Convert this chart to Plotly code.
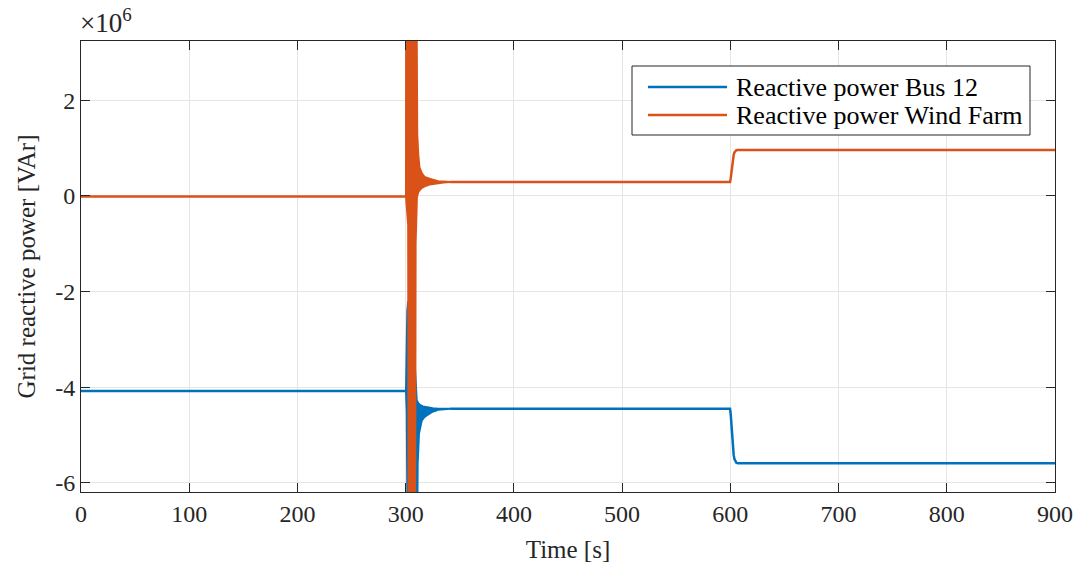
import plotly.graph_objects as go

# Reactive power at the grid connection (values in units of 1e6 VAr)
BLUE = "#0072BD"
ORANGE = "#D95319"

SERIES_NAMES = ["Reactive power Bus 12", "Reactive power Wind Farm"]

# --- settled / slow portions of each signal (gap where the oscillation band is drawn) ---
t_bus12 = [0, 300.3, None, 341, 599.7, 600.3, 601.0, 601.7, 602.4, 603.1, 603.8, 604.6, 605.6, 607.0, 900]
q_bus12 = [-4.08, -4.08, None, -4.45, -4.45, -4.55, -4.82, -5.06, -5.27, -5.42, -5.50, -5.55, -5.58, -5.59, -5.59]

t_wind = [0, 300.3, None, 341, 599.7, 600.3, 601.0, 601.7, 602.4, 603.1, 603.8, 604.6, 605.6, 607.0, 900]
q_wind = [-0.01, -0.01, None, 0.29, 0.29, 0.36, 0.52, 0.65, 0.77, 0.86, 0.91, 0.94, 0.955, 0.96, 0.96]

# --- envelope of the fast oscillation after the disturbance at t = 300 s ---
t_bus12_hi = [300.3, 300.8, 301.5, 302.3, 303.0, 306.0, 308.6, 309.3, 310.2, 311.5, 313.2, 316.0, 319.4, 325.0, 330.0, 341.0]
q_bus12_hi = [-4.08, -3.3, -2.4, -2.2, -2.3, -2.8, -3.6, -4.0, -4.27, -4.33, -4.37, -4.40, -4.42, -4.44, -4.45, -4.45]
t_bus12_lo = [300.3, 301.0, 301.8, 302.3, 310.0, 311.1, 312.3, 314.8, 317.0, 319.4, 324.1, 329.9, 341.0]
q_bus12_lo = [-4.08, -4.5, -5.5, -9.0, -9.0, -5.6, -4.97, -4.70, -4.63, -4.59, -4.52, -4.47, -4.45]

t_wind_hi = [300.3, 300.5, 309.6, 310.2, 310.7, 311.7, 312.8, 315.0, 317.4, 322.0, 326.0, 330.0, 335.0, 341.0]
q_wind_hi = [-0.01, 6.0, 6.0, 2.2, 1.28, 0.85, 0.59, 0.47, 0.40, 0.36, 0.33, 0.31, 0.30, 0.29]
t_wind_lo = [300.3, 301.2, 302.3, 302.8, 308.6, 309.2, 310.4, 311.5, 312.8, 315.0, 317.4, 322.0, 326.0, 330.0, 335.0, 341.0]
q_wind_lo = [-0.01, -0.25, -0.6, -9.0, -9.0, -1.0, -0.02, 0.07, 0.12, 0.17, 0.20, 0.24, 0.26, 0.27, 0.28, 0.29]

x_ticks = [0, 100, 200, 300, 400, 500, 600, 700, 800, 900]
y_ticks = [-6, -4, -2, 0, 2]
y_tick_text = ["-6", "-4", "-2", "0", "2"]

FONT = "Liberation Serif"
AXIS_COLOR = "#262626"
LINE_W = 2.5

W, H = 1080, 569
M_L, M_R, M_T, M_B = 81, 25, 41, 77
PLOT_W = W - M_L - M_R
PLOT_H = H - M_T - M_B


def px_x(px):
    return (px - M_L) / PLOT_W


def px_y(py):
    return (H - M_B - py) / PLOT_H


def band(t_hi, q_hi, t_lo, q_lo, color):
    return go.Scatter(
        x=list(t_hi) + list(t_lo)[::-1],
        y=list(q_hi) + list(q_lo)[::-1],
        mode="lines",
        fill="toself",
        fillcolor=color,
        line=dict(color=color, width=2),
        showlegend=False,
        hoverinfo="skip",
    )


fig = go.Figure()
fig.add_trace(go.Scatter(x=t_bus12, y=q_bus12, mode="lines", name=SERIES_NAMES[0],
                         line=dict(color=BLUE, width=LINE_W), showlegend=False))
fig.add_trace(band(t_bus12_hi, q_bus12_hi, t_bus12_lo, q_bus12_lo, BLUE))
fig.add_trace(go.Scatter(x=t_wind, y=q_wind, mode="lines", name=SERIES_NAMES[1],
                         line=dict(color=ORANGE, width=LINE_W), showlegend=False))
fig.add_trace(band(t_wind_hi, q_wind_hi, t_wind_lo, q_wind_lo, ORANGE))

axis_common = dict(
    showline=True, linecolor=AXIS_COLOR, linewidth=1, mirror="allticks",
    ticks="inside", ticklen=9, tickcolor=AXIS_COLOR, tickwidth=1,
    showgrid=True, gridcolor="#e5e5e5", gridwidth=1, zeroline=False,
    tickfont=dict(family=FONT, size=24, color=AXIS_COLOR), automargin=False,
)

fig.update_xaxes(range=[0, 900], tickvals=x_ticks,
                 title=dict(text="Time [s]", font=dict(family=FONT, size=25, color=AXIS_COLOR), standoff=14),
                 **axis_common)
fig.update_yaxes(range=[-6.19, 3.24], tickvals=y_ticks, ticktext=y_tick_text,
                 title=dict(text="Grid reactive power [VAr]", font=dict(family=FONT, size=25, color=AXIS_COLOR), standoff=12),
                 **axis_common)

# exponent label above the y axis
fig.add_annotation(text="×10<sup>6</sup>", xref="paper", yref="paper", x=0, y=1.0,
                   xanchor="left", yanchor="bottom", showarrow=False, yshift=1, xshift=-3,
                   font=dict(family=FONT, size=27, color=AXIS_COLOR))

# legend box drawn in paper coordinates
box = dict(x0=632, x1=1030, y0=66, y1=135)
fig.add_shape(type="rect", xref="paper", yref="paper",
              x0=px_x(box["x0"]), x1=px_x(box["x1"]), y0=px_y(box["y1"]), y1=px_y(box["y0"]),
              line=dict(color=AXIS_COLOR, width=1), fillcolor="white", layer="above")
for name, color, row_y in zip(SERIES_NAMES, [BLUE, ORANGE], [87, 115]):
    fig.add_shape(type="line", xref="paper", yref="paper",
                  x0=px_x(648), x1=px_x(727), y0=px_y(row_y), y1=px_y(row_y),
                  line=dict(color=color, width=LINE_W), layer="above")
    fig.add_annotation(text=name, xref="paper", yref="paper", x=px_x(734), y=px_y(row_y),
                       xanchor="left", yanchor="middle", showarrow=False,
                       font=dict(family=FONT, size=26, color="black"))

fig.update_layout(
    width=W, height=H,
    margin=dict(l=M_L, r=M_R, t=M_T, b=M_B),
    plot_bgcolor="white", paper_bgcolor="white",
    showlegend=False,
)

fig.write_html("out.html")
